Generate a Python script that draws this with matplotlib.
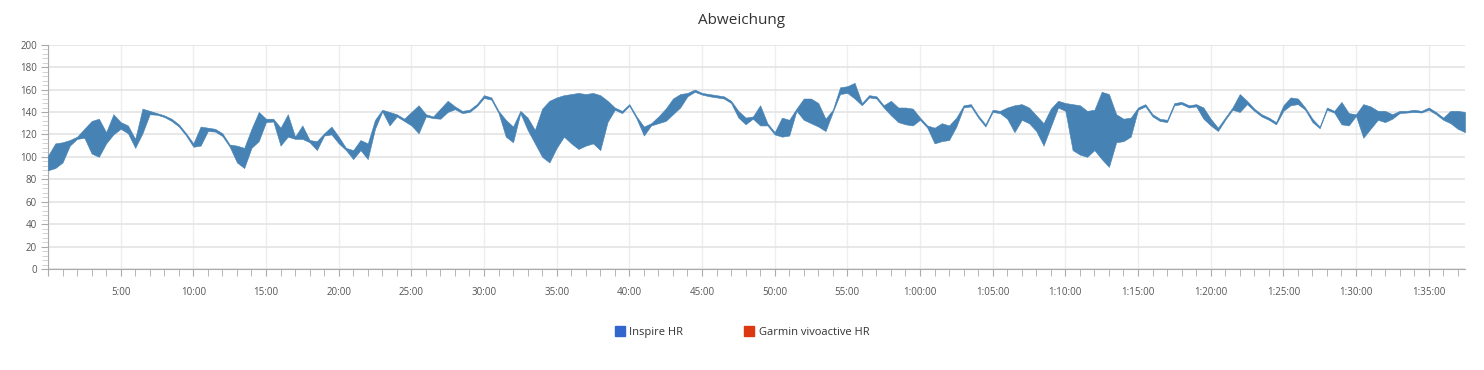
import matplotlib
matplotlib.use("Agg")
import matplotlib.pyplot as plt
import matplotlib.patches as mpatches
from matplotlib.ticker import MultipleLocator, FuncFormatter
import numpy as np

plt.rcParams["font.family"] = ["Open Sans", "DejaVu Sans"]

# =====================================================================================
# Data (minutes since start, bpm)
# =====================================================================================

minutes = np.arange(0, 97.51, 0.5)

garmin_hr = [
    101, 112, 113, 115, 118, 125, 132, 134, 122, 138,
    131, 128, 116, 143, 141, 139, 137, 134, 129, 121,
    112, 127, 126, 125, 121, 111, 110, 108, 125, 140,
    134, 134, 126, 138, 118, 128, 115, 114, 121, 127,
    118, 108, 106, 115, 112, 133, 142, 140, 138, 134,
    140, 146, 138, 136, 143, 150, 145, 141, 142, 147,
    155, 153, 141, 133, 127, 141, 135, 124, 143, 150,
    153, 155, 156, 157, 156, 157, 155, 150, 144, 141,
    147, 136, 127, 130, 136, 143, 152, 156, 157, 160,
    157, 156, 155, 154, 150, 141, 135, 136, 146, 130,
    122, 135, 133, 143, 152, 152, 148, 134, 142, 162,
    163, 166, 148, 155, 154, 146, 150, 144, 144, 143,
    135, 128, 126, 130, 128, 135, 146, 147, 137, 129,
    142, 141, 144, 146, 147, 144, 137, 130, 143, 150,
    148, 147, 146, 141, 142, 158, 156, 138, 134, 135,
    144, 147, 138, 134, 133, 148, 149, 146, 147, 144,
    134, 126, 135, 144, 156, 150, 143, 138, 135, 131,
    146, 153, 152, 144, 134, 127, 144, 141, 149, 139,
    138, 147, 145, 141, 141, 138, 141, 141, 142, 141,
    144, 140, 135, 141, 141, 140,
]

inspire_hr = [
    88, 90, 95, 110, 116, 117, 103, 100, 112, 120,
    125, 121, 108, 121, 138, 137.5, 135.5, 132, 127, 119,
    109, 110, 123, 122.5, 118.5, 109, 95, 90, 108, 114,
    131, 131.5, 110, 118, 116, 116, 113, 106, 119, 120,
    112, 106, 98, 106, 98, 125, 140.5, 128, 136, 132,
    128, 121, 136, 134.5, 134, 140, 142.5, 139, 140, 145,
    152.5, 151, 139, 118, 113, 139, 124, 112, 100, 95,
    108, 118, 112, 107, 110, 112, 106, 131, 142, 139,
    145.5, 134, 119, 128, 130, 132, 138, 144, 154, 158,
    155.5, 154, 153, 152, 148, 135, 129, 134, 128, 128,
    120, 118, 119, 141, 133, 130, 127, 123, 140, 156,
    157, 152, 146, 153, 152, 144, 137, 131, 129, 128,
    133, 126, 112, 114, 115, 127, 144, 145, 135, 127,
    140, 139, 134, 122, 133, 130, 123, 110, 127, 144,
    141, 106, 102, 100, 106, 98, 91, 113, 114, 118,
    142, 145, 136, 132, 131, 146, 147, 144, 145, 134,
    128, 123, 133, 142, 140, 147, 141, 136, 133, 129,
    141, 146, 147, 142, 131, 125.5, 142, 139.5, 129, 128,
    136.5, 117, 125, 133, 131, 134, 139, 139.5, 140, 139.5,
    142, 138, 133, 130, 125, 122,
]

title = "Abweichung"
series_names = ["Inspire HR", "Garmin vivoactive HR"]
legend_colours = ["#3366CC", "#DC3912"]

# =====================================================================================
# Plotting
# =====================================================================================

fig = plt.figure(figsize=(14.84, 3.70), dpi=100)
ax = fig.add_axes([48 / 1484, 1 - 269 / 370, (1465 - 48) / 1484, (269 - 44.7) / 370])

ax.fill_between(minutes, inspire_hr, garmin_hr, color="#4682B4",
                edgecolor="#4682B4", linewidth=0.4, zorder=3)

ax.set_xlim(0, 97.5)
ax.set_ylim(0, 200)

ax.yaxis.set_major_locator(MultipleLocator(20))
ax.yaxis.set_minor_locator(MultipleLocator(4))
ax.xaxis.set_major_locator(MultipleLocator(5))
ax.xaxis.set_minor_locator(MultipleLocator(1))


def fmt_time(x, pos):
    m = int(round(x))
    if m == 0:
        return ""
    if m >= 60:
        return f"{m // 60}:{m % 60:02d}:00"
    return f"{m}:00"


ax.xaxis.set_major_formatter(FuncFormatter(fmt_time))

ax.grid(axis="y", which="major", color="#e4e4e4", linewidth=1.2, zorder=0)
ax.grid(axis="x", which="major", color="#eeeeee", linewidth=1.0, zorder=0)

for side in ["top", "right"]:
    ax.spines[side].set_visible(False)
for side in ["left", "bottom"]:
    ax.spines[side].set_color("#aaaaaa")
    ax.spines[side].set_linewidth(0.8)

ax.tick_params(axis="y", which="major", length=5, color="#aaaaaa",
               labelsize=7, labelcolor="#555555", pad=3)
ax.tick_params(axis="y", which="minor", length=4, color="#cccccc")
ax.tick_params(axis="x", which="major", length=5, color="#aaaaaa",
               labelsize=7, labelcolor="#555555", pad=8)
ax.tick_params(axis="x", which="minor", length=5, color="#aaaaaa")

fig.text(0.5, 1 - 21 / 370, title, ha="center", va="center",
         fontsize=11, color="#333333")

handles = [mpatches.Patch(color=c, label=n) for c, n in zip(legend_colours, series_names)]
fig.legend(handles=handles, loc="center", bbox_to_anchor=(0.5, 1 - 332 / 370),
           ncol=2, frameon=False, fontsize=8, handlelength=0.9, handleheight=0.9,
           handletextpad=0.4, columnspacing=5.5, labelcolor="#333333")

fig.savefig("out.png", dpi=100)
